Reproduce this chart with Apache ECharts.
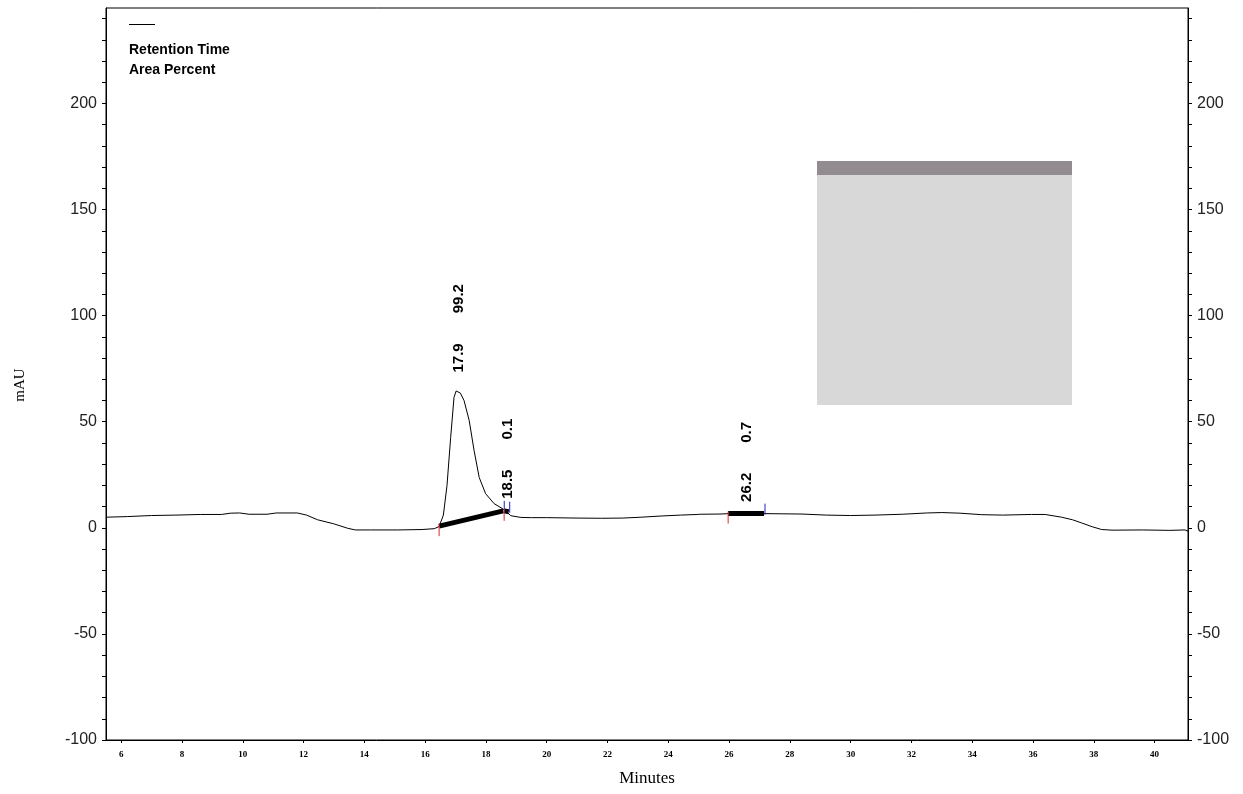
<!DOCTYPE html>
<html><head><meta charset="utf-8">
<script src="https://cdn.jsdelivr.net/npm/echarts@6/dist/echarts.min.js"></script>
<style>html,body{margin:0;padding:0;background:#fff}#c{width:1243px;height:794px}</style>
</head><body><div id="c"></div><script>
// ---- chromatogram trace (minutes, mAU) ----
const traceTime = [5.5, 6.2, 7.0, 7.8, 8.6, 9.3, 9.6, 9.9, 10.2, 10.8, 11.1, 11.8, 12.1, 12.46, 12.99, 13.45, 13.7, 14.2, 15.1, 15.9, 16.3, 16.46,
  16.6, 16.72, 16.84, 16.95, 17.02, 17.08, 17.16, 17.28, 17.45, 17.61, 17.78, 17.99, 18.27, 18.55, 18.72, 18.82, 19.15,
  19.5, 20.0, 21.0, 21.8, 22.5, 23.1, 23.8, 24.4, 24.95, 25.0, 25.05, 25.7, 26.2, 26.9, 27.15, 28.4, 29.2, 30.0, 30.8, 31.7, 32.5, 33.0, 33.6, 34.3, 35.0, 35.95, 36.4,
  36.94, 37.3, 37.6, 37.95, 38.26, 38.5, 38.52, 38.6, 39.6, 40.5, 41.0, 41.1];
const traceSignal = [5.0, 5.3, 5.8, 6.0, 6.3, 6.3, 6.9, 7.0, 6.4, 6.4, 7.0, 7.0, 6.0, 3.8, 1.9, -0.2, -1.0, -1.0, -1.0, -0.8, -0.4, 0.6,
  6.0, 20.0, 42.6, 61.5, 64.5, 65.1, 63.5, 60.0, 50.6, 36.5, 23.7, 16.1, 11.4, 9.0, 7.0, 5.7, 4.9,
  4.8, 4.8, 4.6, 4.5, 4.6, 5.0, 5.6, 6.0, 6.3, 5.6, 6.4, 6.5, 6.8, 6.8, 6.7, 6.5, 6.0, 5.8, 6.0, 6.4, 7.0, 7.2, 6.9, 6.2, 6.0, 6.3, 6.3,
  5.0, 3.8, 2.3, 0.5, -0.8, -1.0, -1.6, -1.1, -1.0, -1.2, -1.0, -1.6];

// ---- axis ticks / labels ----
const xTickValues = [6, 8, 10, 12, 14, 16, 18, 20, 22, 24, 26, 28, 30, 32, 34, 36, 38, 40];
const yTickValues = [-100, -90, -80, -70, -60, -50, -40, -30, -20, -10, 0, 10, 20, 30, 40, 50, 60, 70, 80, 90, 100,
  110, 120, 130, 140, 150, 160, 170, 180, 190, 200, 210, 220, 230, 240];
const yLabelValues = [-100, -50, 0, 50, 100, 150, 200];

// ---- integrated peaks ----
const peakRetention = ['17.9', '18.5', '26.2'];
const peakAreaPct = ['99.2', '0.1', '0.7'];
const peakLabelTime = [17.1, 18.72, 26.6];
const peakLabelLevel = [68.5, 9.0, 7.5];
const peakStartTime = [16.46, 18.6, 25.97];
const peakStartLevel = [0.8, 8.0, 6.7];
const peakEndTime = [18.57, 18.75, 27.15];
const peakEndLevel = [8.0, 7.6, 6.7];

const chart = echarts.init(document.getElementById('c'), null, {renderer: 'canvas'});
const labelFont = 'bold 15px "Liberation Sans", Arial, sans-serif';
const mctx = document.createElement('canvas').getContext('2d');
mctx.font = labelFont;

function yAxisCfg(pos) {
  return {
    type: 'value', position: pos, min: -100, max: 245,
    axisLine: {show: true, onZero: false, lineStyle: {color: '#000', width: 1}},
    axisTick: {show: true, length: 4, customValues: yTickValues, lineStyle: {color: '#000'}},
    axisLabel: {customValues: yLabelValues, color: '#222', fontSize: 16, fontFamily: '"Liberation Sans", Arial, sans-serif', margin: 9},
    splitLine: {show: false}
  };
}

chart.setOption({
  animation: false,
  backgroundColor: '#fff',
  grid: {left: 106, right: 55, top: 8, bottom: 54, show: true, borderColor: '#000', borderWidth: 1, containLabel: false, outerBoundsMode: 'none'},
  xAxis: {
    type: 'value', min: 5.5, max: 41.1,
    name: 'Minutes', nameLocation: 'middle', nameGap: 30,
    nameTextStyle: {color: '#000', fontSize: 17, fontFamily: '"Liberation Serif", "Times New Roman", serif'},
    axisLine: {show: true, onZero: false, lineStyle: {color: '#000', width: 1}},
    axisTick: {show: true, length: 3, customValues: xTickValues, lineStyle: {color: '#000'}},
    axisLabel: {customValues: xTickValues, color: '#000', fontSize: 9, fontWeight: 'bold', fontFamily: '"Liberation Serif", serif', margin: 10},
    splitLine: {show: false}
  },
  yAxis: [yAxisCfg('left'), yAxisCfg('right')],
  graphic: [
    {type: 'line', shape: {x1: 129, y1: 24.5, x2: 155, y2: 24.5}, style: {stroke: '#000', lineWidth: 1}},
    {type: 'text', x: 129, y: 50, style: {text: 'Retention Time', font: 'bold 14px "Liberation Sans", Arial, sans-serif', fill: '#000', verticalAlign: 'middle'}},
    {type: 'text', x: 129, y: 70, style: {text: 'Area Percent', font: 'bold 14px "Liberation Sans", Arial, sans-serif', fill: '#000', verticalAlign: 'middle'}},
    {type: 'text', x: 20, y: 385, rotation: Math.PI / 2, style: {text: 'mAU', font: '15px "Liberation Serif", "Times New Roman", serif', fill: '#000', align: 'center', verticalAlign: 'middle'}},
    {type: 'rect', shape: {x: 817, y: 175, width: 255, height: 230}, style: {fill: '#d8d8d8'}},
    {type: 'rect', shape: {x: 817, y: 161, width: 255, height: 14}, style: {fill: '#928c91'}}
  ],
  series: [
    {
      type: 'line', name: 'trace', xAxisIndex: 0, yAxisIndex: 0,
      data: traceTime.map((t, i) => [t, traceSignal[i]]),
      showSymbol: false, symbol: 'none', lineStyle: {color: '#000', width: 1}, z: 3
    },
    {
      type: 'custom', name: 'baselines', xAxisIndex: 0, yAxisIndex: 0, z: 4,
      data: peakStartTime.map((t, i) => [t, peakStartLevel[i], peakEndTime[i], peakEndLevel[i]]),
      encode: {x: [0, 2], y: [1, 3]},
      renderItem(params, api) {
        const p1 = api.coord([api.value(0), api.value(1)]);
        const p2 = api.coord([api.value(2), api.value(3)]);
        return {type: 'group', children: [
          {type: 'line', shape: {x1: p1[0], y1: p1[1], x2: p2[0], y2: p2[1]}, style: {stroke: '#000', lineWidth: 5}},
          {type: 'line', shape: {x1: p1[0], y1: p1[1] - 2, x2: p1[0], y2: p1[1] + 10}, style: {stroke: '#e0282e', lineWidth: 1}},
          {type: 'line', shape: {x1: p2[0] + 1, y1: p2[1] - 10, x2: p2[0] + 1, y2: p2[1] + 1}, style: {stroke: '#2020c8', lineWidth: 1}}
        ]};
      }
    },
    {
      type: 'custom', name: 'peakLabels', xAxisIndex: 0, yAxisIndex: 0, z: 5,
      data: peakLabelTime.map((t, i) => [t, peakLabelLevel[i], i]),
      encode: {x: 0, y: 1},
      renderItem(params, api) {
        const i = api.value(2);
        const p = api.coord([api.value(0), api.value(1)]);
        const rtText = peakRetention[i];
        const w = mctx.measureText(rtText).width;
        const base = p[1] - 10;
        return {type: 'group', children: [
          {type: 'text', x: p[0], y: base, rotation: Math.PI / 2,
           style: {text: rtText, font: labelFont, fill: '#000', align: 'left', verticalAlign: 'middle'}},
          {type: 'text', x: p[0], y: base - w - 30, rotation: Math.PI / 2,
           style: {text: peakAreaPct[i], font: labelFont, fill: '#000', align: 'left', verticalAlign: 'middle'}}
        ]};
      }
    }
  ]
});
</script></body></html>
